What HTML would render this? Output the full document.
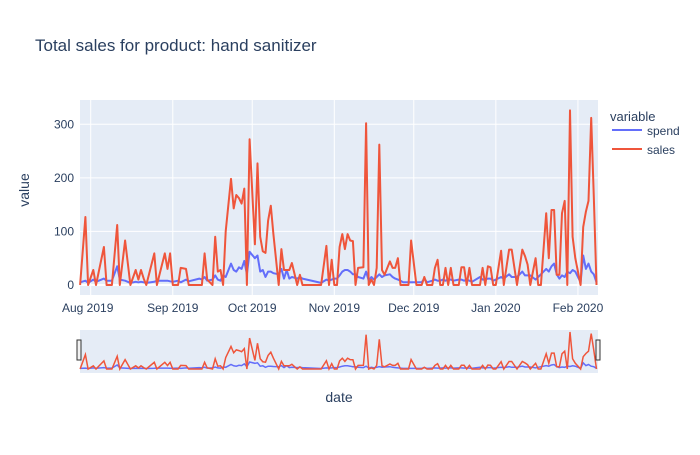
<!DOCTYPE html>
<html><head><meta charset="utf-8"><style>
body{margin:0;background:#fff;}
svg{font-family:"Liberation Sans",Arial,sans-serif;}
</style></head><body>
<svg id="chart" width="700" height="450" viewBox="0 0 700 450">
<rect width="700" height="450" fill="#fff"/>
<text x="35" y="51" font-size="17" fill="#2a3f5f">Total sales for product: hand sanitizer</text>
<rect x="80" y="100" width="518" height="195" fill="#e5ecf6"/>
<g id="grid"></g>
<g id="series"></g>
<g id="xticks"></g>
<g id="yticks"></g>
<text x="0" y="0" transform="translate(29,190) rotate(-90)" text-anchor="middle" font-size="14" fill="#2a3f5f">value</text>
<text x="339" y="402" text-anchor="middle" font-size="14" fill="#2a3f5f">date</text>
<rect x="80" y="330" width="518" height="43" fill="#e5ecf6"/>
<g id="slider"></g>
<rect x="77" y="340" width="4" height="20" fill="#f2f2f2" stroke="#333" stroke-width="1"/>
<rect x="596" y="340" width="4" height="20" fill="#f2f2f2" stroke="#333" stroke-width="1"/>
<g>
<text x="610" y="121" font-size="13" fill="#2a3f5f">variable</text>
<g><line x1="612" y1="130" x2="642" y2="130" stroke="#636efa" stroke-width="2"/><text x="647" y="135" font-size="12" fill="#2a3f5f">spend</text></g>
<g><line x1="612" y1="149" x2="642" y2="149" stroke="#ef553b" stroke-width="2"/><text x="647" y="154" font-size="12" fill="#2a3f5f">sales</text></g>
</g>
</svg>
<script>
const dayOffsets=[-4,-2,-1,1,2,5,6,8,10,11,13,15,17,18,19,20,21,24,25,28,29,30,31,33,34,36,37,41,42,43,44,46,47,48,49,50,51,53,54,55,56,57,58,59,60,62,63,64,65,66,67,68,69,71,72,73,74,75,76,78,79,80,87,89,90,91,92,93,94,95,96,97,98,99,100,101,103,104,105,106,107,108,109,110,111,113,114,115,116,117,118,120,121,123,125,126,127,129,130,131,132,133,134,135,136,137,139,140,141,142,143,144,147,148,149,150,151,152,153,155,156,158,159,161,163,164,165,166,168,169,170,172,173,174,175,176,177,178,179,180,181,182,183,185,186,187,188,189,190,191];
const sales=[0,127,0,28,0,71,0,0,112,0,83,0,28,10,28,12,0,59,0,59,30,59,0,0,32,30,0,0,0,59,10,0,90,25,28,0,100,198,143,168,162,152,180,0,272,76,227,90,63,60,120,148,95,0,67,28,28,28,41,0,19,0,0,73,0,47,0,0,71,95,67,95,83,82,0,32,33,302,0,10,0,32,262,28,19,44,32,32,50,0,0,0,83,0,0,15,0,0,32,47,0,0,32,0,32,0,0,33,33,0,32,0,0,32,0,35,33,0,0,64,0,66,66,0,66,54,38,0,50,0,0,134,50,140,140,19,19,134,157,0,326,90,50,0,108,137,157,312,165,0];
const spend=[5,8,4,10,6,12,8,8,35,10,8,4,6,5,6,5,4,6,8,8,8,7,6,8,5,10,7,12,10,15,8,10,18,10,8,18,15,40,28,25,33,30,45,20,62,50,55,25,28,15,25,25,22,20,30,12,28,12,15,12,15,12,4,10,8,10,12,12,18,25,28,28,25,20,20,15,12,25,8,15,10,15,20,15,18,20,15,12,10,8,5,5,5,5,5,12,5,8,10,8,8,10,8,10,10,8,10,10,8,10,8,6,15,10,10,12,12,8,10,15,12,20,15,15,25,18,18,18,10,15,20,30,25,35,40,20,12,18,15,25,22,28,25,5,55,30,40,25,20,5];
const dates=dayOffsets.map(d=>{const t=new Date(Date.UTC(2019,7,1+d));return t.toISOString().slice(0,10);});
const xTickLabels=["Aug 2019","Sep 2019","Oct 2019","Nov 2019","Dec 2019","Jan 2020","Feb 2020"];
const xTickDates=["2019-08-01","2019-09-01","2019-10-01","2019-11-01","2019-12-01","2020-01-01","2020-02-01"];
const yTicks=[0,100,200,300];

const NS="http://www.w3.org/2000/svg";
const base=Date.UTC(2019,7,1);
function dayOf(s){return (Date.parse(s+"T00:00:00Z")-base)/86400000;}
function xS(s){return 90.7+dayOf(s)*2.648;}
function yS(v){return 285-v*0.5357;}
function ySl(v){return 369-v*0.1135;}
function mk(tag,attrs,parent){const e=document.createElementNS(NS,tag);for(const k in attrs)e.setAttribute(k,attrs[k]);parent.appendChild(e);return e;}
const grid=document.getElementById('grid'),xt=document.getElementById('xticks'),yt=document.getElementById('yticks');
xTickDates.forEach((d,i)=>{
 const x=xS(d);
 const g=mk('line',{x1:x,x2:x,y1:100,y2:295,stroke:'#fff','stroke-width':1},grid);
 
 
 let tx=x; let anchor='middle';
 if(i===0){tx=62;anchor='start';}
 const t=mk('text',{x:tx,y:312,'text-anchor':anchor,'font-size':12,fill:'#2a3f5f'},xt);
 t.textContent=xTickLabels[i];
 
 
});
yTicks.forEach(v=>{
 const y=yS(v);
 const g=mk('line',{x1:80,x2:598,y1:y,y2:y,stroke:'#fff','stroke-width':v===0?2:1},grid);
 
 
 const t=mk('text',{x:74,y:y+4,'text-anchor':'end','font-size':12,fill:'#2a3f5f'},yt);
 t.textContent=v;
 
 
});
function path(vals,fy){return dates.map((d,i)=>(i?'L':'M')+xS(d).toFixed(1)+','+fy(vals[i]).toFixed(1)).join('');}
const ser=document.getElementById('series'),sl=document.getElementById('slider');
const p1=mk('path',{d:path(spend,yS),fill:'none',stroke:'#636efa','stroke-width':2,'stroke-linejoin':'round'},ser);


const p2=mk('path',{d:path(sales,yS),fill:'none',stroke:'#ef553b','stroke-width':2,'stroke-linejoin':'round'},ser);


const s1=mk('path',{d:path(spend,ySl),fill:'none',stroke:'#636efa','stroke-width':1.5},sl);


const s2=mk('path',{d:path(sales,ySl),fill:'none',stroke:'#ef553b','stroke-width':1.5},sl);


</script>
</body></html>
